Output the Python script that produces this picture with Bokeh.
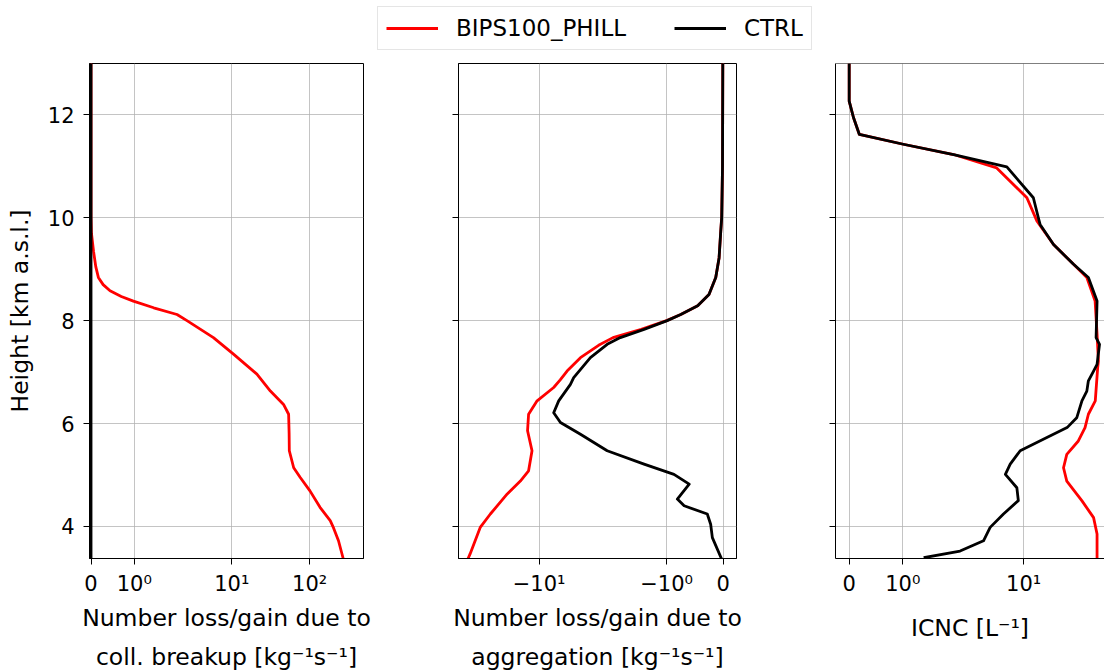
import numpy as np
from bokeh.plotting import figure
from bokeh.models import (Range1d, FixedTicker, CustomJSTickFormatter, Legend,
                          LegendItem, Span)
from bokeh.layouts import column, row
from bokeh.embed import file_html
from bokeh.resources import INLINE

# ---------------- data ----------------
# Panel 1: number loss/gain due to collisional breakup [kg-1 s-1]
breakup_bips_h = [13.0, 10.0, 9.7, 9.35, 9.05, 8.84, 8.7, 8.58, 8.47, 8.38, 8.25,
                  8.12, 8.0, 7.67, 7.35, 6.96, 6.63, 6.37, 6.18, 5.8, 5.47, 5.14,
                  4.95, 4.69, 4.37, 4.11, 3.97, 3.72, 3.375]
breakup_bips_v = [0.0, 0.0, 0.01, 0.058, 0.11, 0.17, 0.28, 0.44, 0.7, 0.98, 1.45,
                  1.99, 2.65, 5.8, 10.5, 21.0, 31.3, 46.2, 53.7, 54.5, 54.8, 62.4,
                  75.8, 101.0, 136.0, 184.0, 203.0, 235.0, 270.0]
breakup_ctrl_h = [13.0, 10.0, 8.0, 6.0, 4.0, 3.375]
breakup_ctrl_v = [0.0, 0.0, 0.0, 0.0, 0.0, 0.0]

# Panel 2: number loss/gain due to aggregation [kg-1 s-1]
aggr_bips_h = [13.0, 11.0, 10.0, 9.74, 9.22, 8.84, 8.51, 8.29, 8.12, 8.0, 7.83,
               7.67, 7.52, 7.28, 7.02, 6.85, 6.70, 6.44, 6.18, 5.86, 5.47, 5.08,
               4.88, 4.63, 4.24, 3.98, 3.46, 3.375]
aggr_bips_v = [-0.005, -0.01, -0.025, -0.041, -0.071, -0.13, -0.25, -0.45, -0.75,
               -1.0, -1.45, -1.95, -2.6, -3.92, -5.31, -6.2, -7.19, -10.47, -12.7,
               -13.0, -11.75, -12.7, -15.3, -20.6, -30.2, -38.0, -47.9, -50.0]
aggr_ctrl_h = [13.0, 11.0, 10.0, 9.74, 9.22, 8.84, 8.51, 8.29, 8.12, 8.0, 7.83,
               7.67, 7.54, 7.28, 6.89, 6.76, 6.44, 6.21, 6.02, 5.79, 5.47, 5.21,
               5.01, 4.82, 4.53, 4.40, 4.24, 4.04, 3.78, 3.375]
aggr_ctrl_v = [-0.005, -0.01, -0.025, -0.041, -0.071, -0.13, -0.25, -0.45, -0.75,
               -0.99, -1.40, -1.82, -2.14, -3.13, -4.57, -4.92, -6.42, -7.19, -6.17,
               -3.92, -2.14, -1.40, -0.87, -0.60, -0.81, -0.69, -0.28, -0.22,
               -0.19, -0.03]

# Panel 3: ICNC [L-1]
icnc_bips_h = [13.0, 12.27, 11.95, 11.62, 11.43, 11.23, 10.97, 10.39, 9.94, 9.48,
               9.10, 8.84, 8.38, 7.74, 7.22, 7.09, 6.44, 6.18, 5.92, 5.66, 5.40,
               5.14, 4.88, 4.50, 4.17, 3.85, 3.375]
icnc_bips_v = [0.0, 0.0, 0.08, 0.19, 1.01, 1.95, 5.25, 10.8, 13.7, 20.4, 32.7, 45.2,
               55.1, 57.7, 59.6, 58.6, 55.3, 46.9, 43.3, 36.9, 28.0, 25.9, 28.0,
               40.1, 53.1, 57.7, 57.7]
icnc_ctrl_h = [13.0, 12.27, 11.95, 11.62, 11.43, 11.23, 10.99, 10.39, 10.0, 9.87,
               9.48, 9.10, 8.84, 8.38, 7.67, 7.54, 7.15, 7.02, 6.83, 6.63, 6.44,
               6.11, 5.92, 5.73, 5.47, 5.21, 5.01, 4.75, 4.50, 4.24, 3.98, 3.72,
               3.52, 3.39]
icnc_ctrl_v = [0.0, 0.0, 0.08, 0.19, 1.01, 1.95, 6.69, 12.6, 14.2, 14.8, 20.4, 32.7,
               46.9, 57.7, 56.4, 61.2, 57.7, 53.1, 46.9, 45.2, 40.2, 35.5, 28.2,
               17.4, 9.2, 7.25, 6.46, 8.5, 8.8, 6.17, 4.49, 3.83, 2.19, 1.39]

breakup_ticks = [0, 1, 10, 100]
aggr_ticks = [-10, -1, 0]
icnc_ticks = [0, 1, 10, 100]
height_ticks = [4, 6, 8, 10, 12]

series_names = ["BIPS100_PHILL", "CTRL"]
series_colors = ["#ff0000", "#000000"]

# ---------------- symlog transform (matplotlib default: linthresh=2) -------
LINTHRESH = 2.0
LINSCALE_ADJ = 1.0 / (1.0 - 1.0 / 10.0)


def symlog(v):
    v = np.asarray(v, dtype=float)
    a = np.abs(v)
    logpart = np.sign(v) * LINTHRESH * (LINSCALE_ADJ +
                                        np.log10(np.maximum(a, 1e-300) / LINTHRESH))
    return np.where(a <= LINTHRESH, v * LINSCALE_ADJ, logpart)


FORMAT_JS = """
const lt = 2.0, la = 1.0/(1.0-0.1);
const a = Math.abs(tick);
let v;
if (a <= lt*la + 1e-9) { v = tick/la; } else { v = Math.sign(tick)*lt*Math.pow(10, a/lt - la); }
if (Math.abs(v) < 1e-9) return '0';
const e = Math.round(Math.log10(Math.abs(v)));
const sup = {'0':'\u2070','1':'\u00b9','2':'\u00b2','3':'\u00b3','4':'\u2074','-':'\u207b'};
const s = String(e).split('').map(c => sup[c]).join('');
return (v < 0 ? '\u2212' : '') + '10' + s;
"""

FONT = "DejaVu Sans"
TICK_FS = "21px"
LABEL_FS = "23.5px"
LEGEND_FS = "23px"
YR = (3.375, 13.0)


def make_panel(xr, bl, fw, br, ticks, xlabel, show_ylab, label_standoff):
    p = figure(frame_width=fw, frame_height=495,
               x_range=Range1d(*xr), y_range=Range1d(*YR),
               toolbar_location=None, output_backend="svg",
               min_border_left=bl, min_border_right=br,
               min_border_top=5, min_border_bottom=108)
    p.outline_line_color = "#000000"
    p.outline_line_width = 1
    for ax in (p.xaxis[0], p.yaxis[0]):
        ax.axis_line_color = "#000000"
        ax.major_tick_line_color = "#000000"
        ax.major_tick_out = 6
        ax.major_tick_in = 0
        ax.minor_tick_line_color = None
        ax.major_label_text_font = FONT
        ax.major_label_text_font_size = TICK_FS
        ax.major_label_text_color = "#000000"
        ax.axis_label_text_font = FONT
        ax.axis_label_text_font_size = LABEL_FS
        ax.axis_label_text_font_style = "normal"
        ax.axis_label_text_color = "#000000"
    p.xaxis.ticker = FixedTicker(ticks=list(symlog(ticks)))
    p.xaxis.formatter = CustomJSTickFormatter(code=FORMAT_JS)
    p.xaxis.major_label_standoff = 7
    p.xaxis.axis_label = xlabel
    p.xaxis.axis_label_standoff = label_standoff
    p.xaxis.axis_label_text_line_height = 1.42
    p.yaxis.ticker = FixedTicker(ticks=height_ticks)
    p.yaxis.major_label_standoff = 9
    if show_ylab:
        p.yaxis.axis_label = "Height [km a.s.l.]"
        p.yaxis.axis_label_standoff = 11
    else:
        p.yaxis.formatter = CustomJSTickFormatter(code="return '';")
    for g in (p.xgrid, p.ygrid):
        g.grid_line_color = "#b0b0b0"
        g.grid_line_width = 1
        g.grid_line_alpha = 0.75
    return p


p1 = make_panel((-0.039, 7.005), 89, 274, 47, breakup_ticks,
                "Number loss/gain due to\ncoll. breakup [kg\u207b\u00b9s\u207b\u00b9]",
                True, 5)
p2 = make_panel((-5.207, 0.264), 48, 278, 49, aggr_ticks,
                "Number loss/gain due to\naggregation [kg\u207b\u00b9s\u207b\u00b9]",
                False, 5)
p3 = make_panel((-0.284, 5.297), 50, 269, 0, icnc_ticks,
                "ICNC [L\u207b\u00b9]", False, 15)
p3.outline_line_color = None
p3.add_layout(Span(location=YR[1], dimension="width", line_color="#000000",
                   line_width=1))

LW = 2.8
for p, hb, vb, hc, vc in ((p1, breakup_bips_h, breakup_bips_v, breakup_ctrl_h, breakup_ctrl_v),
                          (p2, aggr_bips_h, aggr_bips_v, aggr_ctrl_h, aggr_ctrl_v),
                          (p3, icnc_bips_h, icnc_bips_v, icnc_ctrl_h, icnc_ctrl_v)):
    p.line(symlog(vb), hb, line_color=series_colors[0], line_width=LW,
           line_join="round")
    p.line(symlog(vc), hc, line_color=series_colors[1], line_width=LW,
           line_join="round")

# ---------------- legend strip ----------------
leg = figure(width=1104, height=58, x_range=Range1d(0, 1), y_range=Range1d(0, 1),
             toolbar_location=None, output_backend="svg", min_border=0)
leg.axis.visible = False
leg.grid.visible = False
leg.outline_line_color = None
r_b = leg.line(symlog(breakup_bips_v), breakup_bips_h, line_color=series_colors[0],
               line_width=LW, visible=False)
r_c = leg.line(symlog(breakup_ctrl_v), breakup_ctrl_h, line_color=series_colors[1],
               line_width=LW, visible=False)
legend = Legend(items=[LegendItem(label=series_names[0], renderers=[r_b]),
                       LegendItem(label=series_names[1], renderers=[r_c])],
                location=(377, 8), orientation="horizontal",
                glyph_width=52, glyph_height=20, label_standoff=18, spacing=48,
                padding=8, margin=0, label_height=26,
                label_text_font=FONT, label_text_font_size=LEGEND_FS,
                label_text_color="#000000",
                border_line_color="#cccccc", border_line_width=1,
                background_fill_color="#ffffff", background_fill_alpha=0.8)
leg.add_layout(legend)

layout = column(leg, row(p1, p2, p3))

with open("out.html", "w") as f:
    f.write(file_html(layout, INLINE))
